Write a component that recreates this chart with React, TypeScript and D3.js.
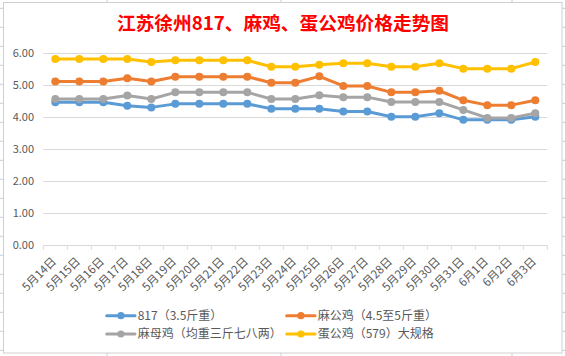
import React from "react";
import * as d3 from "d3";

const title = "江苏徐州817、麻鸡、蛋公鸡价格走势图";
const dates = [
  "5月14日","5月15日","5月16日","5月17日","5月18日","5月19日","5月20日","5月21日","5月22日","5月23日","5月24日",
  "5月25日","5月26日","5月27日","5月28日","5月29日","5月30日","5月31日","6月1日","6月2日","6月3日",
];
const seriesNames = ["817（3.5斤重）", "麻公鸡（4.5至5斤重）", "麻母鸡（均重三斤七八两）", "蛋公鸡（579）大规格"];
const s817 = [4.47,4.47,4.47,4.36,4.31,4.42,4.42,4.42,4.42,4.27,4.27,4.27,4.18,4.18,4.02,4.02,4.13,3.92,3.92,3.92,4.02];
const sMaGong = [5.12,5.12,5.12,5.22,5.12,5.27,5.27,5.27,5.27,5.08,5.08,5.28,4.98,4.98,4.78,4.78,4.83,4.53,4.38,4.38,4.53];
const sMaMu = [4.57,4.57,4.57,4.68,4.57,4.78,4.78,4.78,4.78,4.57,4.57,4.69,4.63,4.63,4.48,4.48,4.48,4.23,3.98,3.98,4.13];
const sDanGong = [5.82,5.82,5.82,5.82,5.73,5.78,5.78,5.78,5.78,5.58,5.58,5.64,5.69,5.69,5.58,5.58,5.69,5.52,5.52,5.52,5.73];
const yTicks = [0, 1, 2, 3, 4, 5, 6];
const colors = ["#5B9BD5", "#ED7D31", "#A5A5A5", "#FFC000"];

const W = 565, H = 356;
const txt = "#595959";
const grid = "#d9d9d9";
const sheet = "#c6cce0";
const font = "'Noto Sans CJK SC', 'Noto Sans', sans-serif";

export default function App() {
  const x = d3.scaleBand<string>().domain(dates).range([43.3, 547.3]);
  const y = d3.scaleLinear().domain([0, 6]).range([245.3, 53.3]);
  const allSeries = [s817, sMaGong, sMaMu, sDanGong];
  const line = d3
    .line<number>()
    .x((_, i) => (x(dates[i]) as number) + x.bandwidth() / 2)
    .y((v) => y(v));

  const rows = d3.range(0, 19).map((k) => 8.3 + 19 * k);
  const cols = [107, 281, 512];
  const legendPos = [
    { lx: 106.7, ly: 315.7 },
    { lx: 286.7, ly: 315.7 },
    { lx: 106.7, ly: 334 },
    { lx: 286.7, ly: 334 },
  ];

  return (
    <svg width={W} height={H} style={{ position: "fixed", left: 0, top: 0 }} fontFamily={font}>
      <rect x={0} y={0} width={W} height={H} fill="#fff" />
      {rows.map((r, i) => (
        <g key={"r" + i}>
          <line x1={0} x2={3} y1={r} y2={r} stroke={sheet} strokeWidth={1} />
          <line x1={562} x2={565} y1={r} y2={r} stroke={sheet} strokeWidth={1} />
        </g>
      ))}
      {cols.map((c, i) => (
        <g key={"c" + i}>
          <line x1={c} x2={c} y1={0} y2={2} stroke={sheet} strokeWidth={1} />
          <line x1={c} x2={c} y1={353} y2={356} stroke={sheet} strokeWidth={1} />
        </g>
      ))}
      <rect x={3.5} y={2.5} width={558.5} height={350.5} fill="#fff" stroke="#d0d0d0" strokeWidth={1} />

      <text x={283} y={30} textAnchor="middle" fill="#FF0000" fontSize={18.7} fontWeight="bold">
        {title}
      </text>

      {yTicks.map((t) => (
        <g key={"y" + t}>
          <line x1={43.3} x2={547.3} y1={Math.round(y(t)) + 0.5} y2={Math.round(y(t)) + 0.5} stroke={grid} strokeWidth={1} />
          <text x={34} y={y(t) + 4} textAnchor="end" fill={txt} fontSize={11}>
            {t.toFixed(2)}
          </text>
        </g>
      ))}
      {d3.range(0, dates.length + 1).map((i) => {
        const xx = 43.3 + i * x.step();
        return <line key={"t" + i} x1={xx} x2={xx} y1={245.3} y2={250} stroke={grid} strokeWidth={1} />;
      })}
      {dates.map((d) => {
        const cx = (x(d) as number) + x.bandwidth() / 2;
        return (
          <text key={d} transform={`translate(${cx + 1.5},262) rotate(-45)`} textAnchor="end" fill={txt} fontSize={11.5}>
            {d}
          </text>
        );
      })}

      {allSeries.map((s, si) => (
        <g key={"s" + si}>
          <path d={line(s) || ""} fill="none" stroke={colors[si]} strokeWidth={3} strokeLinejoin="round" strokeLinecap="round" />
          {s.map((v, i) => (
            <circle key={i} cx={(x(dates[i]) as number) + x.bandwidth() / 2} cy={y(v)} r={4} fill={colors[si]} />
          ))}
        </g>
      ))}

      {seriesNames.map((n, i) => {
        const p = legendPos[i];
        return (
          <g key={"l" + i}>
            <line x1={p.lx} x2={p.lx + 28.3} y1={p.ly} y2={p.ly} stroke={colors[i]} strokeWidth={3} strokeLinecap="round" />
            <circle cx={p.lx + 14.2} cy={p.ly} r={3.6} fill={colors[i]} />
            <text x={p.lx + 31} y={p.ly + 4.3} fill={txt} fontSize={12}>
              {n}
            </text>
          </g>
        );
      })}
    </svg>
  );
}
